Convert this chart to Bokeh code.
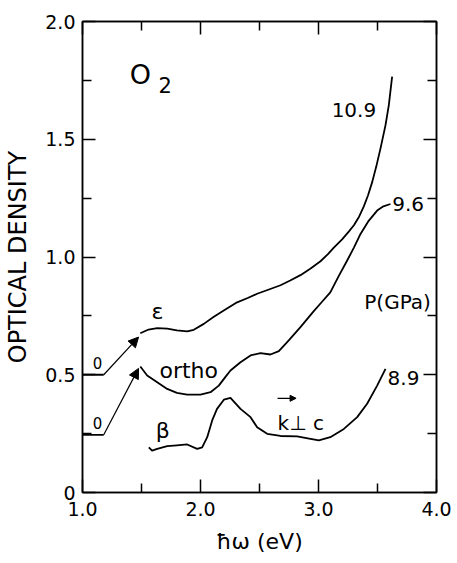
from bokeh.plotting import figure
from bokeh.models import (FixedTicker, LinearAxis, Arrow, NormalHead, Range1d,
                          CustomJSTickFormatter)
from bokeh.core.properties import value
from bokeh.embed import file_html
from bokeh.resources import INLINE

FONT = "DejaVu Sans"

# ---------------- data ----------------
# 10.9 GPa curve (epsilon phase)
eps_x = [1.49, 1.56, 1.633, 1.718, 1.80, 1.887, 1.943, 2.028, 2.11, 2.197, 2.30,
         2.40, 2.48, 2.58, 2.678, 2.76, 2.847, 2.93, 3.017, 3.08, 3.13, 3.20,
         3.26, 3.30, 3.345, 3.384, 3.42, 3.455, 3.49, 3.525, 3.568, 3.596, 3.624]
eps_y = [0.676, 0.692, 0.698, 0.696, 0.688, 0.684, 0.691, 0.716, 0.745, 0.773, 0.805,
         0.826, 0.844, 0.862, 0.880, 0.900, 0.923, 0.950, 0.982, 1.012, 1.040, 1.075,
         1.110, 1.135, 1.172, 1.215, 1.262, 1.318, 1.385, 1.460, 1.560, 1.645, 1.766]

# 9.6 GPa curve (ortho phase)
ortho_x = [1.49, 1.548, 1.633, 1.718, 1.80, 1.887, 2.0, 2.085, 2.155, 2.21, 2.254,
           2.339, 2.424, 2.508, 2.593, 2.664, 2.748, 2.847, 2.96, 3.03, 3.10, 3.17,
           3.243, 3.30, 3.356, 3.42, 3.497, 3.55, 3.61]
ortho_y = [0.535, 0.497, 0.468, 0.440, 0.423, 0.416, 0.416, 0.426, 0.454, 0.490, 0.518,
           0.553, 0.582, 0.592, 0.586, 0.600, 0.646, 0.702, 0.770, 0.810, 0.850, 0.918,
           0.985, 1.040, 1.098, 1.150, 1.197, 1.215, 1.225]

# 8.9 GPa curve (beta phase)
beta_x = [1.562, 1.59, 1.633, 1.718, 1.80, 1.887, 1.972, 2.014, 2.057, 2.099, 2.14,
          2.198, 2.254, 2.339, 2.424, 2.48, 2.565, 2.678, 2.819, 2.932, 3.003,
          3.10, 3.215, 3.328, 3.412, 3.497, 3.568]
beta_y = [0.192, 0.178, 0.185, 0.197, 0.200, 0.204, 0.185, 0.192, 0.235, 0.306, 0.355,
          0.394, 0.402, 0.355, 0.320, 0.277, 0.249, 0.240, 0.238, 0.228, 0.221,
          0.235, 0.270, 0.320, 0.377, 0.454, 0.525]

# zero baselines of the shifted curves and the arrows that lead to them
base_x = [1.0, 1.18]
eps_base_y = [0.5, 0.5]
ortho_base_y = [0.245, 0.245]
eps_arrow = [1.18, 0.5, 1.475, 0.66]
ortho_arrow = [1.18, 0.245, 1.475, 0.527]

# axis ticks
x_ticks = [1, 2, 3, 4]
x_minor = [1.5, 2.5, 3.5]
y_ticks = [0, 0.5, 1, 1.5, 2]
y_minor = [0.25, 0.75, 1.25, 1.75]

# pressure labels (GPa)
p_text = ["10.9", "9.6", "8.9"]
p_x = [3.30, 3.76, 3.72]
p_y = [1.626, 1.227, 0.485]

# phase labels
phase_text = ["ε", "ortho", "β"]
phase_x = [1.635, 1.90, 1.68]
phase_y = [0.77, 0.518, 0.263]

zero_text = ["0", "0"]
zero_x = [1.127, 1.127]
zero_y = [0.55, 0.293]

# ---------------- figure ----------------
p = figure(width=457, height=563, x_range=Range1d(1, 4), y_range=Range1d(0, 2),
           output_backend="svg", toolbar_location=None,
           min_border_left=82, min_border_right=21, min_border_top=21,
           min_border_bottom=71)
p.grid.visible = False
p.outline_line_color = "black"
p.outline_line_width = 1.5
p.background_fill_color = "white"
p.border_fill_color = "white"


def style_axis(ax, ticks, minor, show):
    ax.ticker = FixedTicker(ticks=ticks, minor_ticks=minor)
    ax.major_tick_in = 13
    ax.major_tick_out = 0
    ax.minor_tick_in = 9
    ax.minor_tick_out = 0
    ax.axis_line_color = "black"
    ax.axis_line_width = 1.5
    ax.major_tick_line_color = "black"
    ax.major_tick_line_width = 1.5
    ax.minor_tick_line_color = "black"
    ax.minor_tick_line_width = 1.5
    ax.major_label_text_font = FONT
    ax.major_label_text_font_size = "19px"
    ax.major_label_text_color = "black"
    if show:
        ax.formatter = CustomJSTickFormatter(
            code="return tick == 0 ? '0' : tick.toFixed(1);")
    else:
        ax.formatter = CustomJSTickFormatter(code="return '';")
        ax.major_label_standoff = 0


style_axis(p.xaxis[0], x_ticks, x_minor, True)
style_axis(p.yaxis[0], y_ticks, y_minor, True)
p.xaxis[0].major_label_standoff = 9
p.yaxis[0].major_label_standoff = 7

p.xaxis.axis_label = "ħω (eV)"
p.xaxis.axis_label_text_font = FONT
p.xaxis.axis_label_text_font_size = "22px"
p.xaxis.axis_label_text_font_style = "normal"
p.xaxis.axis_label_text_color = "black"
p.xaxis.axis_label_standoff = 10

p.yaxis.axis_label = "OPTICAL DENSITY"
p.yaxis.axis_label_text_font = FONT
p.yaxis.axis_label_text_font_size = "24px"
p.yaxis.axis_label_text_font_style = "normal"
p.yaxis.axis_label_text_color = "black"
p.yaxis.axis_label_standoff = 10

top = LinearAxis()
style_axis(top, x_ticks, x_minor, False)
p.add_layout(top, "above")
right = LinearAxis()
style_axis(right, y_ticks, y_minor, False)
p.add_layout(right, "right")

# ---------------- curves ----------------
LW = 1.8
p.line(eps_x, eps_y, line_color="black", line_width=LW, line_join="round")
p.line(ortho_x, ortho_y, line_color="black", line_width=LW, line_join="round")
p.line(beta_x, beta_y, line_color="black", line_width=LW, line_join="round")
p.line(base_x, eps_base_y, line_color="black", line_width=LW)
p.line(base_x, ortho_base_y, line_color="black", line_width=LW)

for a in (eps_arrow, ortho_arrow):
    p.add_layout(Arrow(end=NormalHead(size=10, fill_color="black", line_color="black",
                                      line_width=1),
                       x_start=a[0], y_start=a[1], x_end=a[2], y_end=a[3],
                       line_color="black", line_width=1.2))

# ---------------- texts ----------------
p.text(x=p_x, y=p_y, text=p_text, text_font=value(FONT), text_font_size="20px",
       text_align="center", text_baseline="middle", text_color="black")
p.text(x=phase_x, y=phase_y, text=phase_text, text_font=value(FONT),
       text_font_size="22px", text_align="center", text_baseline="middle",
       text_color="black")
p.text(x=zero_x, y=zero_y, text=zero_text, text_font=value(FONT),
       text_font_size="15px", text_align="center", text_baseline="middle",
       text_color="black")
p.text(x=[3.67], y=[0.811], text=["P(GPa)"], text_font=value(FONT),
       text_font_size="20px", text_align="center", text_baseline="middle",
       text_color="black")
# O2 title
p.text(x=[1.49], y=[1.775], text=["O"], text_font=value(FONT), text_font_size="27px",
       text_align="center", text_baseline="middle", text_color="black")
p.text(x=[1.70], y=[1.73], text=["2"], text_font=value(FONT), text_font_size="21px",
       text_align="center", text_baseline="middle", text_color="black")
# k (vector) perpendicular to c
p.text(x=[2.653], y=[0.293], text=["k⊥ c"], text_font=value(FONT),
       text_font_size="20px", text_align="left", text_baseline="alphabetic",
       text_color="black")
p.add_layout(Arrow(end=NormalHead(size=6, fill_color="black", line_color="black",
                                  line_width=1),
                   x_start=2.653, y_start=0.40, x_end=2.81, y_end=0.40,
                   line_color="black", line_width=1.2))

open("out.html", "w").write(file_html(p, INLINE))
